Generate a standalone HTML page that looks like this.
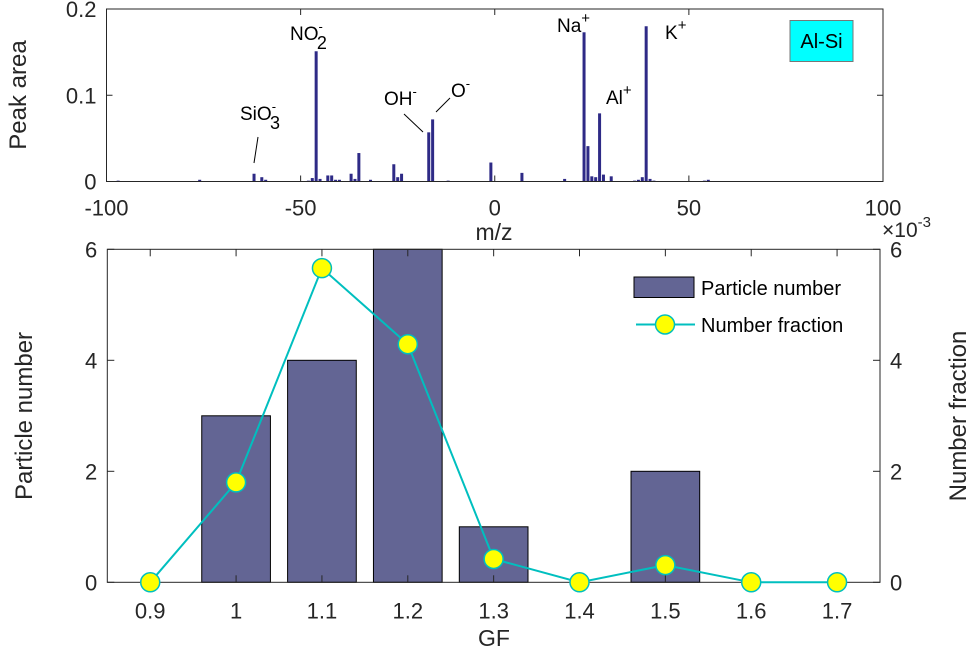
<!DOCTYPE html>
<html><head><meta charset="utf-8">
<style>
html,body{margin:0;padding:0;background:#fff;}
svg{display:block;font-family:"Liberation Sans",Arial,sans-serif;}
</style></head>
<body>
<svg id="fig" width="970" height="654" viewBox="0 0 970 654" xmlns="http://www.w3.org/2000/svg">
<rect x="0" y="0" width="970" height="654" fill="#fff"/>
<g id="topChart"></g>
<g id="botChart"></g>
</svg>
<script>
// Top spectrum data
const mzValues = [-97,-76,-62,-60,-59,-48,-47,-46,-45,-43,-42,-41,-40,-37,-36,-35,-32,-26,-25,-24,-17,-16,-12,-1,7,18,23,24,25,26,27,28,30,36,37,38,39,40,41,54,55];
const peakAreas = [0.001,0.002,0.009,0.005,0.002,0.001,0.004,0.151,0.003,0.007,0.007,0.002,0.002,0.009,0.003,0.033,0.002,0.020,0.005,0.009,0.057,0.072,0.001,0.022,0.010,0.003,0.173,0.041,0.006,0.005,0.079,0.008,0.006,0.001,0.002,0.005,0.180,0.003,0.001,0.001,0.002];
const mzTicks = [-100,-50,0,50,100];
const mzTickLabels = ["-100","-50","0","50","100"];
const areaTicks = [0,0.1,0.2];
const areaTickLabels = ["0","0.1","0.2"];
// Bottom chart data
const gfCategories = [0.9,1.0,1.1,1.2,1.3,1.4,1.5,1.6,1.7];
const gfTickLabels = ["0.9","1","1.1","1.2","1.3","1.4","1.5","1.6","1.7"];
const particleNumbers = [0,3,4,6,1,0,2,0,0];
const numberFractions = [0,1.80,5.66,4.29,0.42,0,0.31,0,0]; // x1e-3
const countTicks = [0,2,4,6];
const countTickLabels = ["0","2","4","6"];

const NS="http://www.w3.org/2000/svg";
function mk(parent,tag,attrs,text){const e=document.createElementNS(NS,tag);for(const k in attrs)e.setAttribute(k,attrs[k]);if(text!==undefined)e.textContent=text;parent.appendChild(e);return e;}

// ---------- top chart ----------
const topChart=document.getElementById('topChart');
const T={l:106.5,r:883,t:9,b:181.5};
const tx=v=>T.l+(v+100)/200*(T.r-T.l);
const ty=v=>T.b-v/0.2*(T.b-T.t);
mzValues.forEach((m,i)=>{
  const h=T.b-ty(peakAreas[i]);
  const r=mk(topChart,'rect',{x:tx(m)-1.5,y:ty(peakAreas[i]),width:3,height:Math.max(h,0.8),fill:'#2e2a86'});
  
  
});
const tf=mk(topChart,'rect',{x:T.l,y:T.t,width:T.r-T.l,height:T.b-T.t,fill:'none',stroke:'#262626','stroke-width':1});


mzTicks.forEach((v,i)=>{
  const x=tx(v);
  mk(topChart,'line',{x1:x,y1:T.b,x2:x,y2:T.b-6,stroke:'#262626'});
  mk(topChart,'line',{x1:x,y1:T.t,x2:x,y2:T.t+6,stroke:'#262626'});
  const t=mk(topChart,'text',{x:x,y:T.b+34,'text-anchor':'middle','font-size':22,fill:'#262626'},mzTickLabels[i]);
  
  
});
areaTicks.forEach((v,i)=>{
  const y=ty(v);
  mk(topChart,'line',{x1:T.l,y1:y,x2:T.l+6,y2:y,stroke:'#262626'});
  mk(topChart,'line',{x1:T.r,y1:y,x2:T.r-6,y2:y,stroke:'#262626'});
  const t=mk(topChart,'text',{x:T.l-10,y:y+8,'text-anchor':'end','font-size':22,fill:'#262626'},areaTickLabels[i]);
  
  
});
topChart.insertAdjacentHTML('beforeend',`
<text x="494" y="240" text-anchor="middle" font-size="23" fill="#262626">m/z</text>
<text transform="translate(26,95) rotate(-90)" text-anchor="middle" font-size="24" fill="#262626">Peak area</text>
<g font-size="19" fill="#000">
<text x="240" y="120">SiO<tspan dy="-9" font-size="13">-</tspan><tspan dx="-6" dy="18" font-size="18">3</tspan></text>
<line x1="258" y1="137" x2="254" y2="163" stroke="#000" stroke-width="1"/>
<text x="290" y="40">NO<tspan dy="-9" font-size="13">-</tspan><tspan dx="-6" dy="18" font-size="18">2</tspan></text>
<text x="384" y="105">OH<tspan dy="-9" font-size="13">-</tspan></text>
<line x1="404" y1="114" x2="423" y2="132" stroke="#000" stroke-width="1"/>
<text x="451" y="97">O<tspan dy="-9" font-size="13">-</tspan></text>
<line x1="436" y1="112" x2="450" y2="98" stroke="#000" stroke-width="1"/>
<text x="557" y="32">Na<tspan dy="-9" font-size="15">+</tspan></text>
<text x="606" y="104">Al<tspan dy="-9" font-size="15">+</tspan></text>
<text x="665" y="39">K<tspan dy="-9" font-size="15">+</tspan></text>
</g>
<g>
<rect x="790" y="20.5" width="63" height="41" fill="#00ffff" stroke="#777" stroke-width="1"/>
<text x="821.5" y="48" text-anchor="middle" font-size="20" fill="#000">Al-Si</text>
</g>`);

// ---------- bottom chart ----------
const botChart=document.getElementById('botChart');
const B={l:107.3,r:880,t:249.3,b:582.3};
const bx=v=>B.l+(v-0.85)/0.9*(B.r-B.l);
const by=v=>B.b-v/6*(B.b-B.t);
const bw=0.08/0.9*(B.r-B.l);
gfCategories.forEach((g,i)=>{
  if(particleNumbers[i]<=0) return;
  const r=mk(botChart,'rect',{x:bx(g)-bw/2,y:by(particleNumbers[i]),width:bw,height:B.b-by(particleNumbers[i]),fill:'#636594',stroke:'#000','stroke-width':1});
  
  
});
const bf=mk(botChart,'rect',{x:B.l,y:B.t,width:B.r-B.l,height:B.b-B.t,fill:'none',stroke:'#262626','stroke-width':1});


gfCategories.forEach((g,i)=>{
  const x=bx(g);
  mk(botChart,'line',{x1:x,y1:B.b,x2:x,y2:B.b-7,stroke:'#262626'});
  mk(botChart,'line',{x1:x,y1:B.t,x2:x,y2:B.t+7,stroke:'#262626'});
  const t=mk(botChart,'text',{x:x,y:B.b+36,'text-anchor':'middle','font-size':22,fill:'#262626'},gfTickLabels[i]);
  
  
});
countTicks.forEach((v,i)=>{
  const y=by(v);
  mk(botChart,'line',{x1:B.l,y1:y,x2:B.l+7,y2:y,stroke:'#262626'});
  mk(botChart,'line',{x1:B.r,y1:y,x2:B.r-7,y2:y,stroke:'#262626'});
  const t=mk(botChart,'text',{x:B.l-10,y:y+8,'text-anchor':'end','font-size':22,fill:'#262626'},countTickLabels[i]);
  
  
  const t2=mk(botChart,'text',{x:B.r+10,y:y+8,'text-anchor':'start','font-size':22,fill:'#262626'},countTickLabels[i]);
  
  
});
const pts=gfCategories.map((g,i)=>bx(g)+','+by(numberFractions[i])).join(' ');
const pl=mk(botChart,'polyline',{points:pts,fill:'none',stroke:'#00bfbf','stroke-width':2});


gfCategories.forEach((g,i)=>{
  const c=mk(botChart,'circle',{cx:bx(g),cy:by(numberFractions[i]),r:9.5,fill:'#ffff00',stroke:'#00bfbf','stroke-width':1.5});
  
  
});
botChart.insertAdjacentHTML('beforeend',`
<text x="494" y="646" text-anchor="middle" font-size="23" fill="#262626">GF</text>
<text transform="translate(32,416) rotate(-90)" text-anchor="middle" font-size="24" fill="#262626">Particle number</text>
<text transform="translate(966,416) rotate(-90)" text-anchor="middle" font-size="24" fill="#262626">Number fraction</text>
<text x="882" y="237" font-size="21" fill="#262626">×10<tspan dy="-10" font-size="15">-3</tspan></text>
<g>
<rect x="634" y="277" width="60" height="20.5" fill="#636594" stroke="#000" stroke-width="1"/>
<text x="701" y="295" font-size="20" fill="#000">Particle number</text>
<line x1="636" y1="324.5" x2="695" y2="324.5" stroke="#00bfbf" stroke-width="2"/>
<circle cx="665" cy="324.5" r="9.5" fill="#ffff00" stroke="#00bfbf" stroke-width="1.5"/>
<text x="701" y="332" font-size="20" fill="#000">Number fraction</text>
</g>`);
</script>
</body></html>
